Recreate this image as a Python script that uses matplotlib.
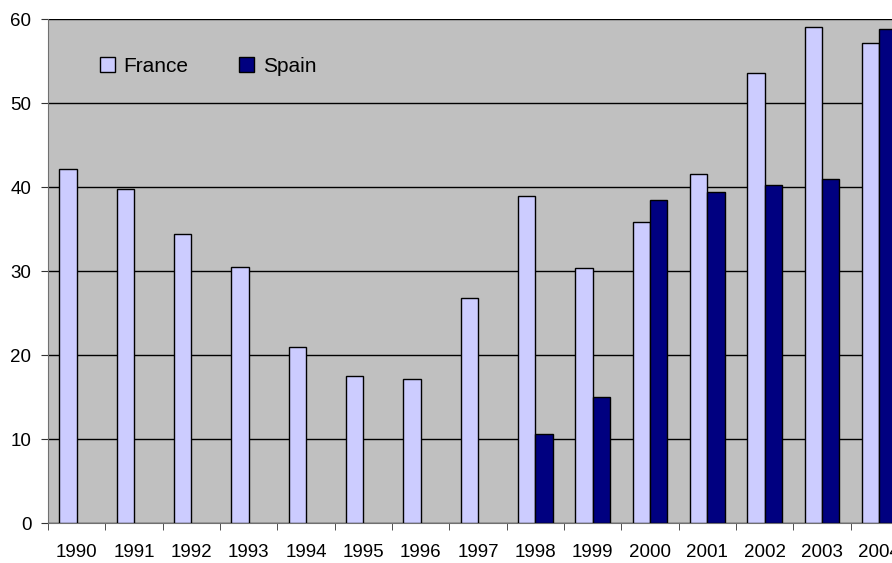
import numpy as np
import matplotlib.pyplot as plt
from matplotlib.patches import Patch

plt.rcParams['font.family'] = ['Liberation Sans', 'DejaVu Sans']

years = ['1990', '1991', '1992', '1993', '1994', '1995', '1996', '1997',
         '1998', '1999', '2000', '2001', '2002', '2003', '2004']
france = [42.2, 39.8, 34.4, 30.5, 21.0, 17.5, 17.1, 26.8,
          38.9, 30.4, 35.8, 41.5, 53.6, 59.0, 57.1]
# no Spain data before 1998
spain = [None, None, None, None, None, None, None, None,
         10.6, 15.0, 38.4, 39.4, 40.2, 40.9, 58.8]

fig = plt.figure(figsize=(8.92, 5.63), dpi=100)
# plot area runs past the right edge, like the original
ax = fig.add_axes([48 / 892, 40 / 563, 860 / 892, 504 / 563])
ax.set_facecolor('#C0C0C0')

x = np.arange(len(years))
w = 0.3
ax.bar(x - w / 2, france, w, color='#CCCCFF', edgecolor='black', linewidth=1, zorder=3)
sx = [i for i, v in enumerate(spain) if v is not None]
sv = [v for v in spain if v is not None]
ax.bar(np.array(sx) + w / 2, sv, w, color='#000080', edgecolor='black', linewidth=1, zorder=3)

ax.set_xlim(-0.5, len(years) - 0.5)
ax.set_ylim(0, 60)
ax.set_yticks(range(0, 61, 10))
ax.yaxis.grid(True, color='black', linewidth=1, zorder=1)
ax.set_axisbelow(True)

ax.set_xticks(x)
ax.set_xticklabels(years)
ax.set_xticks(np.arange(-0.5, len(years), 1), minor=True)
ax.tick_params(axis='x', which='major', length=0, pad=15, labelsize=13.5)
ax.tick_params(axis='x', which='minor', length=5, color='#333333')
ax.tick_params(axis='y', length=5, pad=7, labelsize=13.5, color='#333333')

for s in ['left', 'bottom', 'top']:
    ax.spines[s].set_color('#707070')
ax.spines['right'].set_visible(False)
ax.spines['top'].set_visible(False)

handles = [Patch(facecolor='#CCCCFF', edgecolor='black', label='France'),
           Patch(facecolor='#000080', edgecolor='black', label='Spain')]
ax.legend(handles=handles, ncol=2, frameon=False, fontsize=15,
          loc='center left', bbox_to_anchor=(81 / 892, 497 / 563),
          bbox_transform=fig.transFigure, handlelength=0.75, handleheight=0.75,
          handletextpad=0.4, columnspacing=2.4)

fig.savefig('out.png', dpi=100)
